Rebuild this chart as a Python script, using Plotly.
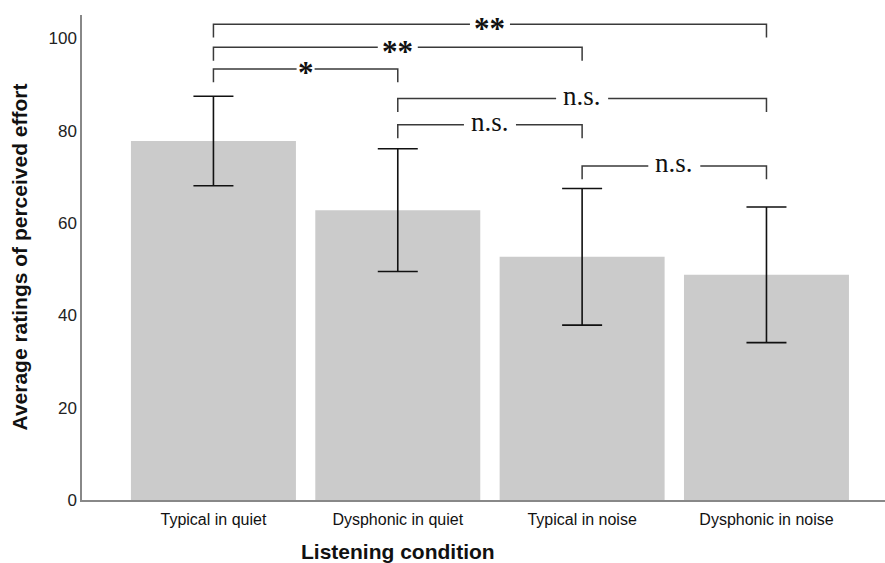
import plotly.graph_objects as go

categories = ["Typical in quiet", "Dysphonic in quiet", "Typical in noise", "Dysphonic in noise"]
means = [77.8, 62.8, 52.7, 48.8]
errors = [9.7, 13.3, 14.8, 14.7]
y_ticks = [0, 20, 40, 60, 80, 100]

# comparisons: (left index, right index, label, bracket level)
comp_left = [0, 0, 0, 1, 1, 2]
comp_right = [3, 2, 1, 3, 2, 3]
comp_label = ["**", "**", "*", "n.s.", "n.s.", "n.s."]
comp_level = [103.1, 98.1, 93.4, 87.0, 81.3, 72.4]
drop = 2.9

PX_PER_CAT = 184.3
GAP_PX = {"**": 20, "*": 9, "n.s.": 26}

fig = go.Figure()
fig.add_trace(go.Bar(
    x=categories, y=means,
    marker=dict(color="#cbcbcb", line=dict(width=0)),
    error_y=dict(type="data", array=errors, visible=True, color="#111111",
                 thickness=1.6, width=20),
    width=0.895,
))

shapes = []
annotations = []
for a, b, lab, lev in zip(comp_left, comp_right, comp_label, comp_level):
    mid = (a + b) / 2
    g = GAP_PX[lab] / PX_PER_CAT
    line = dict(color="#3a3a3a", width=1.5)
    shapes.append(dict(type="path", xref="x", yref="y",
                       path=f"M {a},{lev - drop} L {a},{lev} L {mid - g},{lev}", line=line))
    shapes.append(dict(type="path", xref="x", yref="y",
                       path=f"M {mid + g},{lev} L {b},{lev} L {b},{lev - drop}", line=line))
    is_star = "*" in lab
    annotations.append(dict(
        x=mid, y=lev, xref="x", yref="y",
        text=f"<b>{lab}</b>" if is_star else lab, showarrow=False,
        font=dict(family="Liberation Serif", size=27 if not is_star else 31, color="#111111"),
        yanchor="middle", xanchor="center",
        yshift=-4 if is_star else 3,
    ))

annotations.append(dict(
    text="<b>Average ratings of perceived effort</b>", xref="paper", yref="paper",
    x=0, y=0.5, xshift=-63, textangle=-90, showarrow=False,
    font=dict(family="Liberation Sans", size=21, color="#111111"),
    xanchor="center", yanchor="middle",
))
annotations.append(dict(
    text="<b>Listening condition</b>", xref="paper", yref="paper",
    x=(397.8 - 82) / (885 - 82), y=0, yshift=-51, showarrow=False,
    font=dict(family="Liberation Sans", size=21, color="#111111"),
    xanchor="center", yanchor="middle",
))

fig.update_layout(
    width=885, height=563,
    margin=dict(l=82, r=0, t=15, b=63),
    paper_bgcolor="white", plot_bgcolor="white",
    showlegend=False,
    shapes=shapes, annotations=annotations,
    xaxis=dict(range=[-0.713, 3.643], showline=True, linecolor="#888888", linewidth=1.5,
               ticks="", showgrid=False, zeroline=False, ticklabelstandoff=4,
               tickfont=dict(family="Liberation Sans", size=16, color="#111111")),
    yaxis=dict(range=[0, 105.1], tickvals=y_ticks, showline=True, linecolor="#888888",
               linewidth=1.5, ticks="", showgrid=False, zeroline=False,
               tickfont=dict(family="Liberation Sans", size=17, color="#222222")),
)

fig.write_html("out.html")
